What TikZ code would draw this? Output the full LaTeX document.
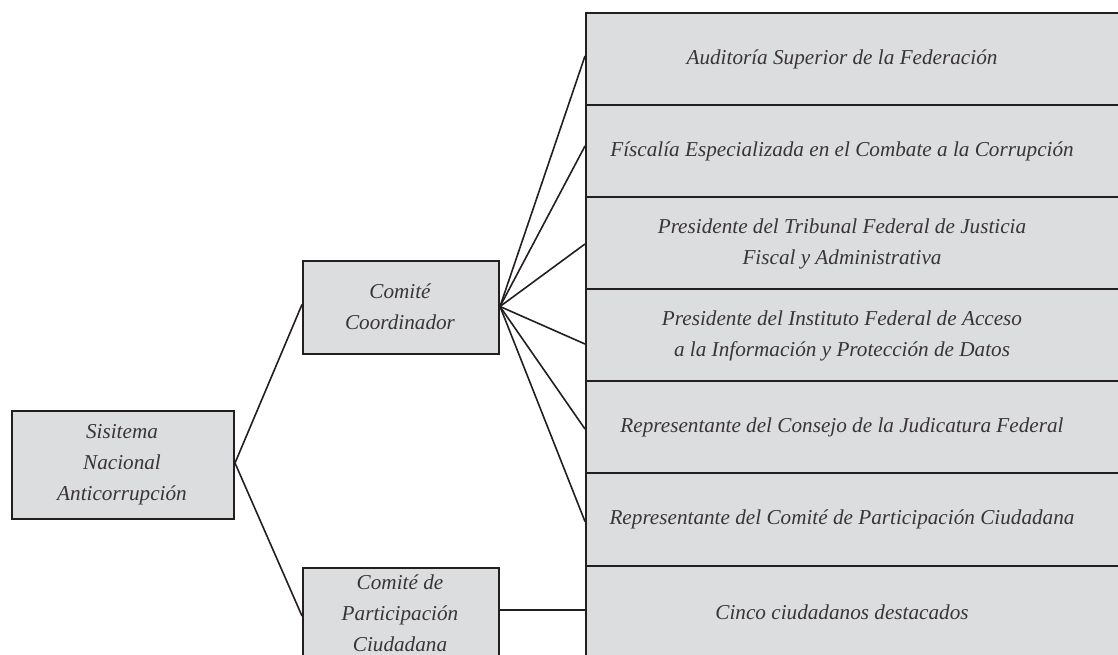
\documentclass[tikz,border=0pt]{standalone}
\usepackage{fontspec}
\setmainfont{Liberation Serif}
\definecolor{boxfill}{HTML}{DCDDDF}
\definecolor{edge}{HTML}{231F20}
\tikzset{
  gbox/.style={draw=edge, line width=2pt, fill=boxfill, inner sep=0pt},
  lbl/.style={inner sep=0pt, align=center, text=edge!90!white, font=\fontsize{21.2}{31}\selectfont\itshape},
  conn/.style={draw=edge, line width=1.6pt}
}
\begin{document}
\begin{tikzpicture}[x=1pt,y=-1pt]
\useasboundingbox (0,0) rectangle (1118,654);
\clip (0,0) rectangle (1118,654);
% right column boxes
\node[gbox, minimum width=560pt, minimum height=92pt, anchor=north west] (r1) at (585,12) {};
\node[gbox, minimum width=560pt, minimum height=92pt, anchor=north west] (r2) at (585,104) {};
\node[gbox, minimum width=560pt, minimum height=92pt, anchor=north west] (r3) at (585,196) {};
\node[gbox, minimum width=560pt, minimum height=92pt, anchor=north west] (r4) at (585,288) {};
\node[gbox, minimum width=560pt, minimum height=92pt, anchor=north west] (r5) at (585,380) {};
\node[gbox, minimum width=560pt, minimum height=93pt, anchor=north west] (r6) at (585,472) {};
\node[gbox, minimum width=560pt, minimum height=100pt, anchor=north west] (r7) at (585,565) {};
\node[lbl] (t1) at (842,59) {Auditoría Superior de la Federación};
\node[lbl] (t2) at (842,151) {Físcalía Especializada en el Combate a la Corrupción};
\node[lbl] (t3) at (842,244) {Presidente del Tribunal Federal de Justicia\\Fiscal y Administrativa};
\node[lbl] (t4) at (842,336) {Presidente del Instituto Federal de Acceso\\a la Información y Protección de Datos};
\node[lbl] (t5) at (842,427) {Representante del Consejo de la Judicatura Federal};
\node[lbl] (t6) at (842,519) {Representante del Comité de Participación Ciudadana};
\node[lbl] (t7) at (842,612) {Cinco ciudadanos destacados};
% left boxes
\node[gbox, minimum width=222pt, minimum height=108pt, anchor=north west] (sna) at (11,410) {};
\node[lbl] (tsna) at (122,465) {Sisitema\\Nacional\\Anticorrupción};
\node[gbox, minimum width=196pt, minimum height=93pt, anchor=north west] (cc) at (302,260) {};
\node[lbl] (tcc) at (400,307) {Comité\\Coordinador};
\node[gbox, minimum width=196pt, minimum height=110pt, anchor=north west] (cp) at (302,567) {};
\node[lbl] (tcp) at (400,613) {Comité de\\Participación\\Ciudadana};
% connectors
\draw[conn] ([yshift=2pt]sna.east) -- ([yshift=3pt]cc.west);
\draw[conn] ([yshift=2pt]sna.east) -- ([yshift=7pt]cp.west);
\draw[conn] ([yshift=1pt]cc.east) -- ([yshift=3pt]r1.west);
\draw[conn] ([yshift=1pt]cc.east) -- ([yshift=5pt]r2.west);
\draw[conn] ([yshift=1pt]cc.east) -- ([yshift=-1pt]r3.west);
\draw[conn] ([yshift=1pt]cc.east) -- ([yshift=-9pt]r4.west);
\draw[conn] ([yshift=1pt]cc.east) -- ([yshift=-2pt]r5.west);
\draw[conn] ([yshift=1pt]cc.east) -- ([yshift=-2pt]r6.west);
\draw[conn] ([yshift=13pt]cp.east) -- ([yshift=13pt]cp.east -| r7.west);
\end{tikzpicture}
\end{document}
